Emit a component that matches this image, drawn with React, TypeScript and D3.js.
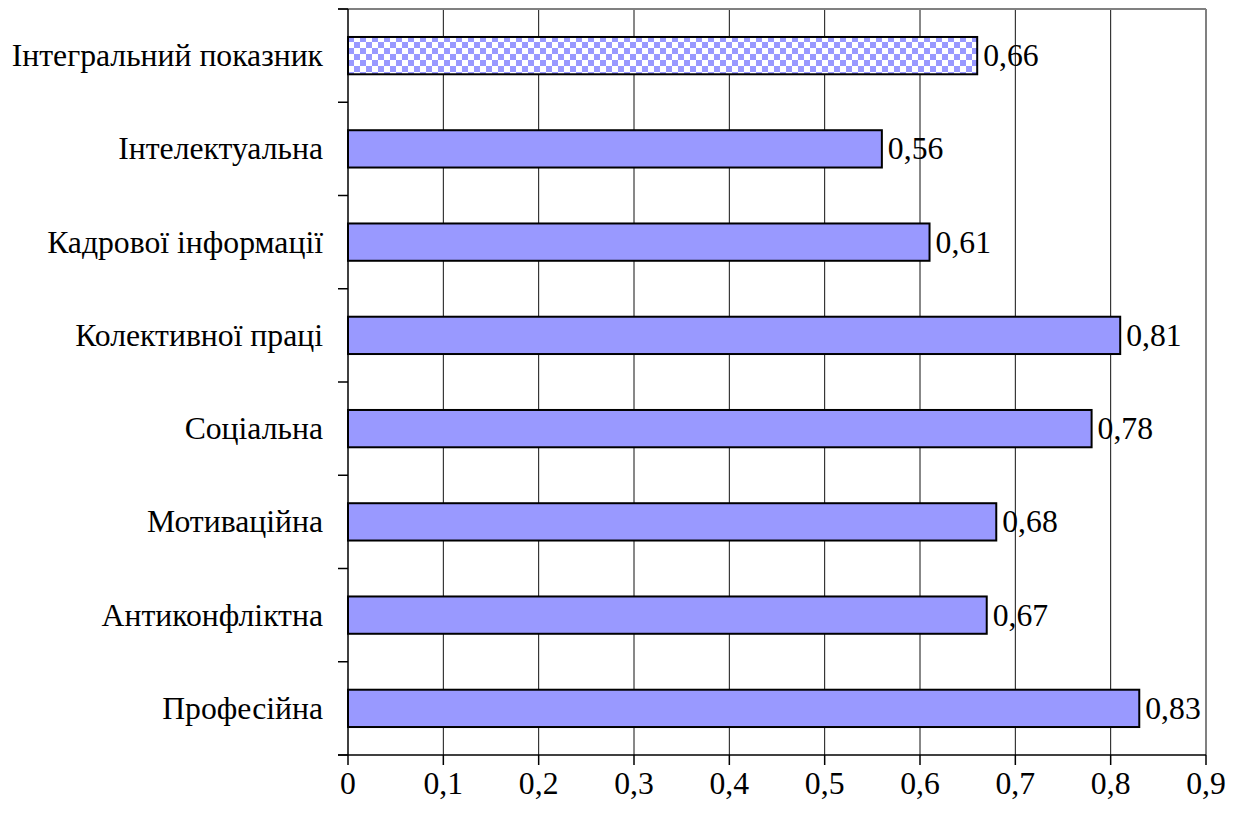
import React from "react";
import * as d3 from "d3";

const categories = [
  "Інтегральний показник",
  "Інтелектуальна",
  "Кадрової інформації",
  "Колективної праці",
  "Соціальна",
  "Мотиваційна",
  "Антиконфліктна",
  "Професійна",
];
const values = [0.66, 0.56, 0.61, 0.81, 0.78, 0.68, 0.67, 0.83];
const patterned = [true, false, false, false, false, false, false, false];
const xTicks = [0, 0.1, 0.2, 0.3, 0.4, 0.5, 0.6, 0.7, 0.8, 0.9];

const W = 1238;
const H = 819;
const left = 348;
const right = 1206;
const top = 9;
const bottom = 755;
const FONT = "'Liberation Serif', 'Times New Roman', serif";
const FS = 31.7;

const fmt = (v: number) => String(v).replace(".", ",");

export default function App() {
  const x = d3.scaleLinear().domain([0, 0.9]).range([left, right]);
  const y = d3
    .scaleBand<string>()
    .domain(categories)
    .range([top, bottom])
    .paddingInner(0.6)
    .paddingOuter(0.3);
  const step = y.step();
  const boundaries = d3.range(categories.length + 1).map((i) => top + i * step);

  return (
    <div style={{ position: "absolute", left: 0, top: 0 }}>
      <svg width={W} height={H} style={{ display: "block", background: "#fff" }}>
        <defs>
          <pattern id="checker" width={12} height={12} patternUnits="userSpaceOnUse">
            <rect width={12} height={12} fill="#ffffff" />
            <rect x={0} y={0} width={6} height={6} fill="#9999ff" />
            <rect x={6} y={6} width={6} height={6} fill="#9999ff" />
          </pattern>
        </defs>
        {xTicks.slice(1, -1).map((t) => (
          <line key={t} x1={x(t)} x2={x(t)} y1={top} y2={bottom} stroke="#111" strokeWidth={1} />
        ))}
        <line x1={left - 10} x2={right} y1={top} y2={top} stroke="#808080" strokeWidth={2} />
        <line x1={right} x2={right} y1={top} y2={bottom} stroke="#808080" strokeWidth={2} />
        {categories.map((c, i) => (
          <rect
            key={c}
            x={x(0)}
            y={y(c)!}
            width={x(values[i]) - x(0)}
            height={y.bandwidth()}
            fill={patterned[i] ? "url(#checker)" : "#9999ff"}
            stroke="#000"
            strokeWidth={2}
          />
        ))}
        <line x1={left} x2={left} y1={top} y2={bottom} stroke="#000" strokeWidth={1.5} />
        <line x1={left - 10} x2={right} y1={bottom} y2={bottom} stroke="#000" strokeWidth={1.5} />
        {boundaries.map((b, i) => (
          <line key={i} x1={left - 10} x2={left} y1={b} y2={b} stroke="#000" strokeWidth={1.5} />
        ))}
        {xTicks.map((t) => (
          <line key={t} x1={x(t)} x2={x(t)} y1={bottom} y2={bottom + 10} stroke="#000" strokeWidth={1.5} />
        ))}
        {xTicks.map((t) => (
          <text
            key={t}
            x={x(t)}
            y={bottom + 28}
            fontFamily={FONT}
            fontSize={FS}
            textAnchor="middle"
            dominantBaseline="central"
            fill="#000"
          >
            {fmt(t)}
          </text>
        ))}
        {categories.map((c) => (
          <text
            key={c}
            x={left - 25}
            y={y(c)! + y.bandwidth() / 2}
            fontFamily={FONT}
            fontSize={FS}
            textAnchor="end"
            dominantBaseline="central"
            fill="#000"
          >
            {c}
          </text>
        ))}
        {categories.map((c, i) => (
          <text
            key={c}
            x={x(values[i]) + 6}
            y={y(c)! + y.bandwidth() / 2}
            fontFamily={FONT}
            fontSize={FS}
            dominantBaseline="central"
            fill="#000"
          >
            {fmt(values[i])}
          </text>
        ))}
      </svg>
    </div>
  );
}
